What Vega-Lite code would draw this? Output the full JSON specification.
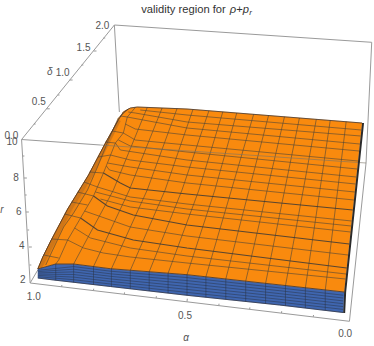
{"$schema":"https://vega.github.io/schema/vega-lite/v6.json","width":374,"height":346,"autosize":{"type":"fit","contains":"padding"},"padding":0,"background":"white","view":{"stroke":null},
"datasets":{
"surface":[{"u":37,"v":269},{"u":42,"v":257},{"u":50,"v":241},{"u":67,"v":209},{"u":88,"v":175},{"u":105,"v":143},{"u":118,"v":120},{"u":123,"v":112},{"u":130,"v":108},{"u":137,"v":107},{"u":187,"v":109},{"u":363,"v":123},{"u":345,"v":292},{"u":187,"v":274.7},{"u":110,"v":268.7},{"u":73,"v":264},{"u":55,"v":264}],
"rimband":[{"u":37,"v":269},{"u":42,"v":257},{"u":50,"v":241},{"u":67,"v":209},{"u":88,"v":175},{"u":105,"v":143},{"u":118,"v":120},{"u":123,"v":112},{"u":128,"v":109},{"u":118,"v":118},{"u":108,"v":140},{"u":97,"v":167},{"u":87,"v":190},{"u":73,"v":213},{"u":63,"v":227},{"u":52,"v":250},{"u":45,"v":265}],
"rimstrip":[{"u":37,"v":269},{"u":42,"v":257},{"u":50,"v":241},{"u":67,"v":209},{"u":88,"v":175},{"u":105,"v":143},{"u":118,"v":120},{"u":120,"v":121},{"u":109,"v":143},{"u":92,"v":176},{"u":71,"v":210},{"u":54,"v":243},{"u":46,"v":258},{"u":41,"v":268}],
"side":[{"u":37,"v":269},{"u":55,"v":264},{"u":73,"v":264},{"u":110,"v":268.7},{"u":187,"v":274.7},{"u":280,"v":285},{"u":345,"v":292},{"u":344,"v":312.5},{"u":280,"v":305},{"u":187,"v":295.3},{"u":110,"v":286.5},{"u":53,"v":280},{"u":37,"v":278}],
"box":[
{"l":"b1","u":20.7,"v":139.5},{"l":"b1","u":114,"v":25},
{"l":"b2","u":114,"v":25},{"l":"b2","u":372.7,"v":42.3},
{"l":"b3","u":114,"v":25},{"l":"b3","u":119,"v":112},
{"l":"b4","u":372.7,"v":42.3},{"l":"b4","u":367,"v":163},{"l":"b4","u":350.3,"v":321.3},
{"l":"b5","u":20.7,"v":139.5},{"l":"b5","u":29.3,"v":283},{"l":"b5","u":350.3,"v":321.3},
{"l":"b6","u":29.3,"v":283},{"l":"b6","u":37,"v":270},
{"l":"b7","u":20.7,"v":139.5},{"l":"b7","u":100,"v":145},
{"l":"t1","u":45.7,"v":108.8},{"l":"t1","u":49,"v":108.8},
{"l":"t2","u":69,"v":80},{"l":"t2","u":72,"v":80},
{"l":"t3","u":93,"v":51},{"l":"t3","u":96,"v":51},
{"l":"t4","u":23,"v":178},{"l":"t4","u":26,"v":178},
{"l":"t5","u":25,"v":212},{"l":"t5","u":28,"v":212},
{"l":"t6","u":28,"v":247},{"l":"t6","u":31,"v":247},
{"l":"t7","u":187,"v":301.7},{"l":"t7","u":187.3,"v":298.7},
{"l":"m1","u":61,"v":286.8},{"l":"m1","u":61.2,"v":285},
{"l":"m2","u":93,"v":290.5},{"l":"m2","u":93.2,"v":288.7},
{"l":"m3","u":124,"v":294.2},{"l":"m3","u":124.2,"v":292.4},
{"l":"m4","u":156,"v":298},{"l":"m4","u":156.2,"v":296.2},
{"l":"m5","u":219,"v":305.5},{"l":"m5","u":219.2,"v":303.7},
{"l":"m6","u":250,"v":309.2},{"l":"m6","u":250.2,"v":307.4},
{"l":"m7","u":282,"v":313},{"l":"m7","u":282.2,"v":311.2},
{"l":"m8","u":314,"v":316.8},{"l":"m8","u":314.2,"v":315},
{"l":"m9","u":21.7,"v":156},{"l":"m9","u":23.5,"v":156},
{"l":"m10","u":24,"v":195},{"l":"m10","u":25.8,"v":195},
{"l":"m11","u":26.5,"v":230},{"l":"m11","u":28.3,"v":230},
{"l":"m12","u":28.7,"v":265},{"l":"m12","u":30.5,"v":265},
{"l":"m13","u":33,"v":124},{"l":"m13","u":34.8,"v":124},
{"l":"m14","u":57,"v":95},{"l":"m14","u":58.8,"v":95},
{"l":"m15","u":81,"v":65},{"l":"m15","u":82.8,"v":65},
{"l":"m16","u":103,"v":38},{"l":"m16","u":104.8,"v":38}
],
"grid":[
{"l":"c1","u":140,"v":110},{"l":"c1","u":187,"v":115},{"l":"c1","u":362.3,"v":130},
{"l":"c2","u":128,"v":112},{"l":"c2","u":135,"v":113},{"l":"c2","u":187,"v":122},{"l":"c2","u":361.6,"v":136},
{"l":"c3","u":127,"v":117},{"l":"c3","u":143,"v":120},{"l":"c3","u":187,"v":128},{"l":"c3","u":360.8,"v":144},
{"l":"c4","u":125,"v":124},{"l":"c4","u":135,"v":129},{"l":"c4","u":187,"v":135},{"l":"c4","u":360,"v":151},
{"l":"c5","u":123,"v":133},{"l":"c5","u":135,"v":140},{"l":"c5","u":187,"v":145},{"l":"c5","u":359,"v":161},
{"l":"c6","u":118,"v":140},{"l":"c6","u":130,"v":146},{"l":"c6","u":187,"v":152},{"l":"c6","u":358.1,"v":169},
{"l":"c7","u":115,"v":143},{"l":"c7","u":120,"v":150},{"l":"c7","u":187,"v":160},{"l":"c7","u":357.2,"v":177},
{"l":"c8","u":110,"v":155},{"l":"c8","u":130,"v":160},{"l":"c8","u":187,"v":167},{"l":"c8","u":356.5,"v":184},
{"l":"c9","u":107,"v":163},{"l":"c9","u":130,"v":167},{"l":"c9","u":187,"v":175},{"l":"c9","u":355.7,"v":192},
{"l":"c10","u":106,"v":166},{"l":"c10","u":109,"v":170},{"l":"c10","u":130,"v":175},{"l":"c10","u":187,"v":183},{"l":"c10","u":354.8,"v":200},
{"l":"c12","u":97,"v":187},{"l":"c12","u":130,"v":197},{"l":"c12","u":187,"v":204},{"l":"c12","u":352.6,"v":221},
{"l":"c13","u":95,"v":192},{"l":"c13","u":130,"v":201},{"l":"c13","u":187,"v":209},{"l":"c13","u":352,"v":226},
{"l":"c14","u":100,"v":199},{"l":"c14","u":130,"v":207},{"l":"c14","u":187,"v":214},{"l":"c14","u":351.4,"v":232},
{"l":"c16","u":84,"v":211},{"l":"c16","u":130,"v":227},{"l":"c16","u":187,"v":236},{"l":"c16","u":349,"v":255},
{"l":"c18","u":74,"v":228},{"l":"c18","u":90,"v":238},{"l":"c18","u":130,"v":248},{"l":"c18","u":187,"v":256},{"l":"c18","u":347,"v":274},
{"l":"c19","u":67,"v":240},{"l":"c19","u":83,"v":248},{"l":"c19","u":103,"v":253},{"l":"c19","u":130,"v":257},{"l":"c19","u":187,"v":263},{"l":"c19","u":346.4,"v":279},
{"l":"s1","u":51,"v":239},{"l":"s1","u":67,"v":240},
{"l":"s2","u":64,"v":214},{"l":"s2","u":80,"v":218},
{"l":"s3","u":77,"v":192},{"l":"s3","u":93,"v":196},
{"l":"s4","u":89,"v":172},{"l":"s4","u":103,"v":173},
{"l":"s5","u":105,"v":142},{"l":"s5","u":115,"v":143},
{"l":"s6","u":112,"v":131},{"l":"s6","u":123,"v":133},
{"l":"s7","u":120,"v":116},{"l":"s7","u":127,"v":117},
{"l":"s8","u":43,"v":255},{"l":"s8","u":58,"v":258},
{"l":"s9","u":71,"v":202},{"l":"s9","u":87,"v":205},
{"l":"s10","u":83.5,"v":182},{"l":"s10","u":97,"v":187},
{"l":"s11","u":97.5,"v":157},{"l":"s11","u":110,"v":155},
{"l":"L1","u":326,"v":290.2},{"l":"L1","u":347,"v":121.7},
{"l":"L2","u":306,"v":288},{"l":"L2","u":331,"v":120.4},
{"l":"L3","u":286,"v":285.7},{"l":"L3","u":317,"v":119.3},
{"l":"L4","u":266,"v":283.4},{"l":"L4","u":300,"v":118},
{"l":"L5","u":246,"v":281.2},{"l":"L5","u":285,"v":116.8},
{"l":"L6","u":226,"v":279},{"l":"L6","u":269,"v":115.5},
{"l":"L7","u":206,"v":276.8},{"l":"L7","u":254,"v":114.3},
{"l":"L8","u":187,"v":274.7},{"l":"L8","u":215,"v":190},{"l":"L8","u":237,"v":113},
{"l":"L9","u":168,"v":273.2},{"l":"L9","u":199,"v":190},{"l":"L9","u":223,"v":111.9},
{"l":"L10","u":149,"v":271.8},{"l":"L10","u":182,"v":190},{"l":"L10","u":209,"v":110.8},
{"l":"L11","u":130,"v":270.3},{"l":"L11","u":165,"v":190},{"l":"L11","u":193,"v":109.5},
{"l":"L12","u":111,"v":268.8},{"l":"L12","u":147,"v":190},{"l":"L12","u":177,"v":108.5},
{"l":"L13","u":93,"v":266.5},{"l":"L13","u":129,"v":190},{"l":"L13","u":162,"v":108},
{"l":"L14","u":73,"v":264},{"l":"L14","u":113,"v":190},{"l":"L14","u":147,"v":107.5},
{"l":"Lc","u":55,"v":264},{"l":"Lc","u":58,"v":260},{"l":"Lc","u":67,"v":240},{"l":"Lc","u":80,"v":218},{"l":"Lc","u":93,"v":196},{"l":"Lc","u":103,"v":173},{"l":"Lc","u":115,"v":143},{"l":"Lc","u":123,"v":133},{"l":"Lc","u":127,"v":117},{"l":"Lc","u":135,"v":107.5},
{"l":"Lr","u":45,"v":265},{"l":"Lr","u":52,"v":250},{"l":"Lr","u":63,"v":227},{"l":"Lr","u":73,"v":213},{"l":"Lr","u":87,"v":190},{"l":"Lr","u":97,"v":167},{"l":"Lr","u":108,"v":140},{"l":"Lr","u":118,"v":118},{"l":"Lr","u":128,"v":109}
],
"thick":[
{"l":"t11","u":103,"v":173},{"l":"t11","u":120,"v":183},{"l":"t11","u":130,"v":188},{"l":"t11","u":187,"v":194},{"l":"t11","u":353.7,"v":210},
{"l":"t15","u":93,"v":196},{"l":"t15","u":107,"v":206},{"l":"t15","u":133,"v":215},{"l":"t15","u":187,"v":225},{"l":"t15","u":350.1,"v":244},
{"l":"t17","u":80,"v":218},{"l":"t17","u":97,"v":230},{"l":"t17","u":133,"v":240},{"l":"t17","u":187,"v":248},{"l":"t17","u":347.6,"v":268}
],
"sidegrid":[
{"l":"h1","u":37,"v":270.3},{"l":"h1","u":73,"v":266.6},{"l":"h1","u":110,"v":271.2},{"l":"h1","u":187,"v":277.6},{"l":"h1","u":280,"v":287.9},{"l":"h1","u":344,"v":295.2},
{"l":"h2","u":37,"v":271.6},{"l":"h2","u":73,"v":269.2},{"l":"h2","u":110,"v":273.8},{"l":"h2","u":187,"v":280.6},{"l":"h2","u":280,"v":290.7},{"l":"h2","u":344,"v":298},
{"l":"h3","u":37,"v":272.9},{"l":"h3","u":73,"v":271.9},{"l":"h3","u":110,"v":276.3},{"l":"h3","u":187,"v":283.5},{"l":"h3","u":280,"v":293.6},{"l":"h3","u":344,"v":300.9},
{"l":"h4","u":37,"v":274.1},{"l":"h4","u":73,"v":274.5},{"l":"h4","u":110,"v":278.9},{"l":"h4","u":187,"v":286.5},{"l":"h4","u":280,"v":296.4},{"l":"h4","u":344,"v":303.7},
{"l":"h5","u":37,"v":275.4},{"l":"h5","u":73,"v":277.1},{"l":"h5","u":110,"v":281.4},{"l":"h5","u":187,"v":289.4},{"l":"h5","u":280,"v":299.3},{"l":"h5","u":344,"v":306.6},
{"l":"h6","u":37,"v":276.7},{"l":"h6","u":73,"v":279.7},{"l":"h6","u":110,"v":284},{"l":"h6","u":187,"v":292.4},{"l":"h6","u":280,"v":302.1},{"l":"h6","u":344,"v":309.4},
{"l":"v1","u":55,"v":264},{"l":"v1","u":55,"v":280.2},
{"l":"v2","u":73,"v":264},{"l":"v2","u":73,"v":282.3},
{"l":"v3","u":93,"v":266.5},{"l":"v3","u":93,"v":284.5},
{"l":"v4","u":111,"v":268.8},{"l":"v4","u":111,"v":286.6},
{"l":"v5","u":130,"v":270.3},{"l":"v5","u":130,"v":288.9},
{"l":"v6","u":149,"v":271.8},{"l":"v6","u":149,"v":291},
{"l":"v7","u":168,"v":273.2},{"l":"v7","u":168,"v":293.1},
{"l":"v8","u":187,"v":274.7},{"l":"v8","u":187,"v":295.3},
{"l":"v9","u":206,"v":276.8},{"l":"v9","u":206,"v":297.3},
{"l":"v10","u":226,"v":279},{"l":"v10","u":226,"v":299.4},
{"l":"v11","u":246,"v":281.2},{"l":"v11","u":246,"v":301.5},
{"l":"v12","u":266,"v":283.4},{"l":"v12","u":266,"v":303.5},
{"l":"v13","u":286,"v":285.7},{"l":"v13","u":286,"v":305.7},
{"l":"v14","u":306,"v":288},{"l":"v14","u":306,"v":307.9},
{"l":"v15","u":326,"v":290.2},{"l":"v15","u":326,"v":310.2}
],
"edges":[
{"l":"e1","u":37,"v":269},{"l":"e1","u":55,"v":264},{"l":"e1","u":73,"v":264},{"l":"e1","u":110,"v":268.7},{"l":"e1","u":187,"v":274.7},{"l":"e1","u":345,"v":292},
{"l":"e2","u":37,"v":278},{"l":"e2","u":53,"v":280},{"l":"e2","u":110,"v":286.5},{"l":"e2","u":187,"v":295.3},{"l":"e2","u":280,"v":305},{"l":"e2","u":344,"v":312.5},
{"l":"e3","u":37,"v":269},{"l":"e3","u":42,"v":257},{"l":"e3","u":50,"v":241},{"l":"e3","u":67,"v":209},{"l":"e3","u":88,"v":175},{"l":"e3","u":105,"v":143},{"l":"e3","u":118,"v":120},{"l":"e3","u":123,"v":112},{"l":"e3","u":130,"v":108},{"l":"e3","u":137,"v":107},{"l":"e3","u":187,"v":109},{"l":"e3","u":363,"v":123}
],
"rightedge":[{"l":"r","u":364,"v":123},{"l":"r","u":346,"v":292},{"l":"r","u":345,"v":313}],
"through":[{"l":"x","u":100,"v":145},{"l":"x","u":367,"v":163}],
"ticklabels":[
{"t":"0.0","u":10.5,"v":136},{"t":"0.5","u":38,"v":102},{"t":"1.0","u":62,"v":73},{"t":"1.5","u":83,"v":48},{"t":"2.0","u":102,"v":26},
{"t":"10","u":11,"v":142},{"t":"8","u":15,"v":178},{"t":"6","u":18,"v":212},{"t":"4","u":21,"v":246},{"t":"2","u":22,"v":280},
{"t":"1.0","u":33,"v":297},{"t":"0.5","u":185,"v":316},{"t":"0.0","u":346,"v":334}],
"axisnames":[{"t":"δ","u":49,"v":72},{"t":"r","u":1,"v":210},{"t":"α","u":186,"v":338}],
"titletext":[{"t":"validity region for","u":141,"v":10}],
"titleitalic":[{"t":"ρ","u":230,"v":10},{"t":"p","u":243,"v":10}],
"titleplus":[{"t":"+","u":236.5,"v":10}],
"titlesub":[{"t":"r","u":249.5,"v":13}]
},
"encoding":{
"x":{"field":"u","type":"quantitative","scale":{"domain":[0,374],"nice":false,"zero":false},"axis":null},
"y":{"field":"v","type":"quantitative","scale":{"domain":[346,0],"nice":false,"zero":false},"axis":null},
"order":{"value":null}
},
"layer":[
{"data":{"name":"box"},"mark":{"type":"line","color":"#9a9a9a","strokeWidth":1},"encoding":{"detail":{"field":"l"}}},
{"data":{"name":"side"},"mark":{"type":"line","fill":"#3f66b0","stroke":"#3f66b0","strokeWidth":0.5}},
{"data":{"name":"surface"},"mark":{"type":"line","fill":"#f98a0e","stroke":"#f98a0e","strokeWidth":0.5}},
{"data":{"name":"rimband"},"mark":{"type":"line","fill":"#ea8210","stroke":"#ea8210","strokeWidth":0.5}},
{"data":{"name":"rimstrip"},"mark":{"type":"line","fill":"#cf7618","stroke":"#cf7618","strokeWidth":0.5}},
{"data":{"name":"sidegrid"},"mark":{"type":"line","color":"#2b3346","strokeWidth":0.7,"opacity":0.75},"encoding":{"detail":{"field":"l"}}},
{"data":{"name":"grid"},"mark":{"type":"line","color":"#4d4438","strokeWidth":0.8,"opacity":0.75},"encoding":{"detail":{"field":"l"}}},
{"data":{"name":"thick"},"mark":{"type":"line","color":"#3d3a36","strokeWidth":1.1,"opacity":0.85},"encoding":{"detail":{"field":"l"}}},
{"data":{"name":"through"},"mark":{"type":"line","color":"#7b7468","strokeWidth":1,"opacity":0.6},"encoding":{"detail":{"field":"l"}}},
{"data":{"name":"edges"},"mark":{"type":"line","color":"#2a2a33","strokeWidth":0.9,"opacity":0.8},"encoding":{"detail":{"field":"l"}}},
{"data":{"name":"rightedge"},"mark":{"type":"line","color":"#2b2b2b","strokeWidth":2},"encoding":{"detail":{"field":"l"}}},
{"data":{"name":"ticklabels"},"mark":{"type":"text","font":"Liberation Sans","fontSize":10,"color":"#555555","align":"center","baseline":"middle"},"encoding":{"text":{"field":"t"}}},
{"data":{"name":"axisnames"},"mark":{"type":"text","font":"Liberation Sans","fontSize":10,"fontStyle":"italic","color":"#555555","align":"center","baseline":"middle"},"encoding":{"text":{"field":"t"}}},
{"data":{"name":"titletext"},"mark":{"type":"text","font":"Liberation Sans","fontSize":11.2,"color":"#333333","align":"left","baseline":"middle"},"encoding":{"text":{"field":"t"}}},
{"data":{"name":"titleitalic"},"mark":{"type":"text","font":"Liberation Sans","fontSize":11.2,"fontStyle":"italic","color":"#333333","align":"left","baseline":"middle"},"encoding":{"text":{"field":"t"}}},
{"data":{"name":"titleplus"},"mark":{"type":"text","font":"Liberation Sans","fontSize":11.2,"color":"#333333","align":"left","baseline":"middle"},"encoding":{"text":{"field":"t"}}},
{"data":{"name":"titlesub"},"mark":{"type":"text","font":"Liberation Sans","fontSize":8,"fontStyle":"italic","color":"#333333","align":"left","baseline":"middle"},"encoding":{"text":{"field":"t"}}}
]}
